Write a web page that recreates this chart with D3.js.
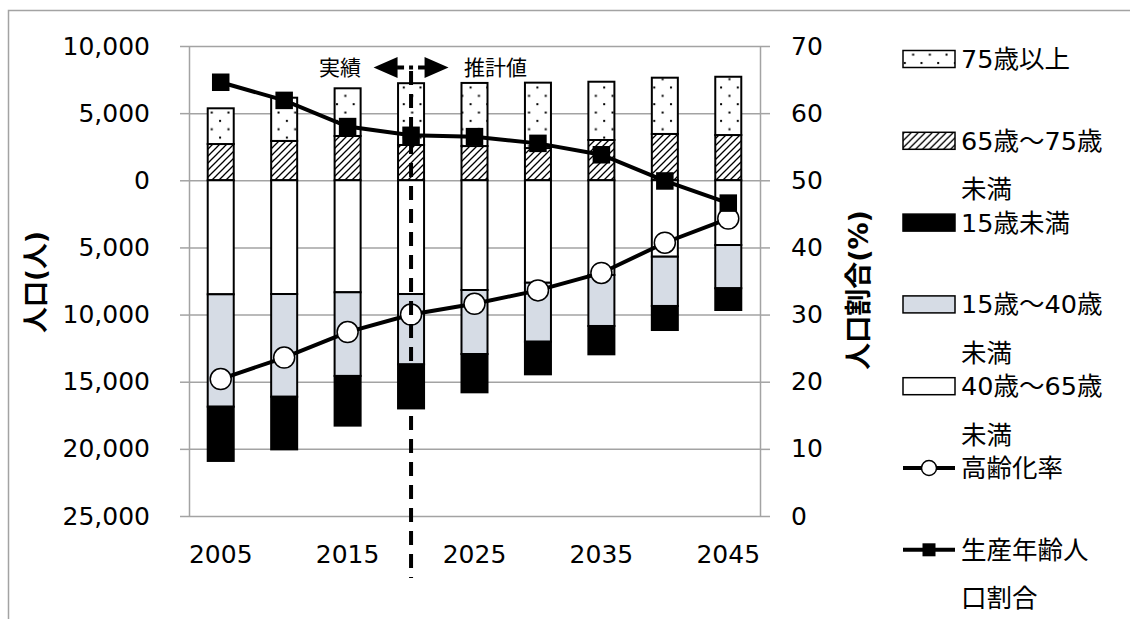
<!DOCTYPE html>
<html>
<head>
<meta charset="utf-8">
<script src="https://cdn.jsdelivr.net/npm/d3@7"></script>
<style>
  body { margin: 0; background: #fff; }
  svg { display: block; }
</style>
</head>
<body>
<svg id="chart" width="1130" height="619"></svg>
<script>
// ---- data ----
const years = [2005, 2010, 2015, 2020, 2025, 2030, 2035, 2040, 2045];
const yearTickLabels = [2005, 2015, 2025, 2035, 2045];

// population by age group (people); upper groups stack up, lower groups stack down
const age75plus = [2660, 3220, 3550, 4600, 4700, 4870, 4340, 4190, 4340];
const age65to75 = [2700, 2930, 3300, 2630, 2550, 2400, 3000, 3450, 3370];
const age40to65 = [8490, 8470, 8340, 8470, 8170, 7630, 7050, 5690, 4820];
const age15to40 = [8370, 7650, 6230, 5240, 4770, 4390, 3800, 3670, 3220];
const under15   = [4040, 3920, 3700, 3280, 2850, 2430, 2110, 1790, 1620];

// ratios (%)
const agingRate       = [20.4, 23.6, 27.4, 30.0, 31.6, 33.6, 36.2, 40.7, 44.3];
const workingAgeShare = [64.6, 61.9, 58.0, 56.7, 56.5, 55.5, 53.8, 49.9, 46.6];

const leftTicks  = [10000, 5000, 0, -5000, -10000, -15000, -20000, -25000];
const rightTicks = [0, 10, 20, 30, 40, 50, 60, 70];

const legendEntries = [
  { key: "age75plus", lines: ["75歳以上"], kind: "dots" },
  { key: "age65to75", lines: ["65歳～75歳", "未満"], kind: "hatch" },
  { key: "under15",   lines: ["15歳未満"], kind: "black" },
  { key: "age15to40", lines: ["15歳～40歳", "未満"], kind: "blue" },
  { key: "age40to65", lines: ["40歳～65歳", "未満"], kind: "white" },
  { key: "aging",     lines: ["高齢化率"], kind: "circle" },
  { key: "working",   lines: ["生産年齢人", "口割合"], kind: "square" }
];

// ---- layout ----
const plot = { left: 189, right: 760, top: 46, bottom: 516 };
const FONT = '"DejaVu Sans", "Noto Sans CJK JP", sans-serif';
const GRID = "#a3a3a3";
const BLUE = "#d6dce5";

const svg = d3.select("#chart");

// outer frame
svg.append("rect")
  .attr("x", 8.5).attr("y", 10.5).attr("width", 1300).attr("height", 800)
  .attr("fill", "none").attr("stroke", GRID).attr("stroke-width", 1.5);

// fill patterns
const defs = svg.append("defs");
const dots = defs.append("pattern").attr("id", "dots")
  .attr("patternUnits", "userSpaceOnUse").attr("width", 16.7).attr("height", 16.7);
dots.append("rect").attr("width", 16.7).attr("height", 16.7).attr("fill", "#fff");
dots.append("rect").attr("x", 2).attr("y", 3).attr("width", 2).attr("height", 2).attr("fill", "#000");
dots.append("rect").attr("x", 10.35).attr("y", 11.35).attr("width", 2).attr("height", 2).attr("fill", "#000");

const hatch = defs.append("pattern").attr("id", "hatch")
  .attr("patternUnits", "userSpaceOnUse").attr("width", 7).attr("height", 7);
hatch.append("rect").attr("width", 7).attr("height", 7).attr("fill", "#fff");
hatch.append("path").attr("d", "M-1,8 L8,-1 M-2,2 L2,-2 M5,9 L9,5")
  .attr("stroke", "#000").attr("stroke-width", 1.3);

const fills = {
  age75plus: "url(#dots)",
  age65to75: "url(#hatch)",
  age40to65: "#fff",
  age15to40: BLUE,
  under15: "#000"
};

// scales
const x = d3.scaleBand().domain(years).range([plot.left, plot.right])
  .paddingInner(0.59).paddingOuter(0.295);
const yL = d3.scaleLinear().domain([-25000, 10000]).range([plot.bottom, plot.top]);
const yR = d3.scaleLinear().domain([0, 70]).range([plot.bottom, plot.top]);
const cx = d => x(d) + x.bandwidth() / 2;

// gridlines
svg.append("g")
  .attr("transform", `translate(${plot.left},0)`)
  .call(d3.axisLeft(yL).tickValues(leftTicks).tickSize(-(plot.right - plot.left)).tickFormat(""))
  .call(g => g.select(".domain").remove())
  .call(g => g.selectAll("line").attr("stroke", GRID).attr("stroke-width", 1.5));

// left axis (magnitudes shown without sign)
const fmtAbs = v => d3.format(",")(Math.abs(v));
svg.append("g")
  .attr("transform", `translate(${plot.left},0)`)
  .call(d3.axisLeft(yL).tickValues(leftTicks).tickSize(9).tickSizeOuter(0).tickPadding(30).tickFormat(fmtAbs))
  .call(g => g.select(".domain").attr("stroke", GRID).attr("stroke-width", 1.5))
  .call(g => g.selectAll("line").attr("stroke", GRID).attr("stroke-width", 1.5))
  .call(g => g.selectAll("text").attr("font-family", FONT).attr("font-size", 25).attr("fill", "#000"));

// right axis
svg.append("g")
  .attr("transform", `translate(${plot.right},0)`)
  .call(d3.axisRight(yR).tickValues(rightTicks).tickSize(10).tickSizeOuter(0).tickPadding(21))
  .call(g => g.select(".domain").attr("stroke", GRID).attr("stroke-width", 1.5))
  .call(g => g.selectAll("line").attr("stroke", GRID).attr("stroke-width", 1.5))
  .call(g => g.selectAll("text").attr("font-family", FONT).attr("font-size", 25).attr("fill", "#000"));

// category axis
svg.append("g")
  .attr("transform", `translate(0,${plot.bottom})`)
  .call(d3.axisBottom(x).tickValues(yearTickLabels).tickSize(0).tickPadding(29))
  .call(g => g.select(".domain").remove())
  .call(g => g.selectAll("text").attr("font-family", FONT).attr("font-size", 25).attr("fill", "#000"));

// axis titles
svg.append("text")
  .attr("transform", "translate(45,282) rotate(-90)")
  .attr("text-anchor", "middle")
  .attr("font-family", FONT).attr("font-size", 26).attr("font-weight", "bold")
  .text("人口(人)");
svg.append("text")
  .attr("transform", "translate(868,290) rotate(-90)")
  .attr("text-anchor", "middle")
  .attr("font-family", FONT).attr("font-size", 27).attr("font-weight", "bold")
  .text("人口割合(%)");

// stacked bars
const keys = ["age65to75", "age75plus", "age40to65", "age15to40", "under15"];
const table = years.map((yr, i) => ({
  year: yr,
  age65to75: age65to75[i],
  age75plus: age75plus[i],
  age40to65: -age40to65[i],
  age15to40: -age15to40[i],
  under15: -under15[i]
}));
const series = d3.stack().keys(keys).offset(d3.stackOffsetDiverging)(table);

svg.append("g").selectAll("g")
  .data(series)
  .join("g")
  .attr("fill", s => fills[s.key])
  .attr("stroke", "#000")
  .attr("stroke-width", 2)
  .selectAll("rect")
  .data(s => s)
  .join("rect")
  .attr("x", d => x(d.data.year))
  .attr("width", x.bandwidth())
  .attr("y", d => yL(Math.max(d[0], d[1])))
  .attr("height", d => Math.abs(yL(d[0]) - yL(d[1])));

// ratio lines
const line = d3.line().x((d, i) => cx(years[i])).y(d => yR(d));
svg.append("path").datum(agingRate)
  .attr("d", line).attr("fill", "none").attr("stroke", "#000").attr("stroke-width", 4);
svg.append("path").datum(workingAgeShare)
  .attr("d", line).attr("fill", "none").attr("stroke", "#000").attr("stroke-width", 4);

svg.append("g").selectAll("circle")
  .data(agingRate)
  .join("circle")
  .attr("cx", (d, i) => cx(years[i]))
  .attr("cy", d => yR(d))
  .attr("r", 10.5)
  .attr("fill", "#fff").attr("stroke", "#000").attr("stroke-width", 1.5);

const sq = 17.5;
svg.append("g").selectAll("rect")
  .data(workingAgeShare)
  .join("rect")
  .attr("x", (d, i) => cx(years[i]) - sq / 2)
  .attr("y", d => yR(d) - sq / 2)
  .attr("width", sq).attr("height", sq)
  .attr("fill", "#000");

// actual / projection divider
const divX = cx(2020);
const arrowY = 67.5;
svg.append("line")
  .attr("x1", divX).attr("x2", divX).attr("y1", 71).attr("y2", 578)
  .attr("stroke", "#000").attr("stroke-width", 4).attr("stroke-dasharray", "14,9");
svg.append("path")
  .attr("d", `M${divX - 37.5},${arrowY} L${divX - 13.5},${arrowY - 10.5} L${divX - 13.5},${arrowY + 10.5} Z
              M${divX + 37.5},${arrowY} L${divX + 13.5},${arrowY - 10.5} L${divX + 13.5},${arrowY + 10.5} Z`)
  .attr("fill", "#000");
svg.append("line")
  .attr("x1", divX - 14).attr("x2", divX + 14).attr("y1", arrowY).attr("y2", arrowY)
  .attr("stroke", "#000").attr("stroke-width", 4).attr("stroke-dasharray", "7,5,4,5,7");
svg.append("text")
  .attr("x", divX - 50).attr("y", arrowY).attr("dy", "0.35em")
  .attr("text-anchor", "end")
  .attr("font-family", FONT).attr("font-size", 21)
  .text("実績");
svg.append("text")
  .attr("x", divX + 53).attr("y", arrowY).attr("dy", "0.35em")
  .attr("text-anchor", "start")
  .attr("font-family", FONT).attr("font-size", 21)
  .text("推計値");

// legend
const lg = { x: 903, w: 52, h: 17, textX: 961, top: 59, step: 81.8, lineGap: 48.5 };
const rows = svg.append("g").selectAll("g")
  .data(legendEntries)
  .join("g")
  .attr("transform", (d, i) => `translate(0,${lg.top + i * lg.step})`);

rows.each(function (d) {
  const g = d3.select(this);
  if (d.kind === "circle" || d.kind === "square") {
    g.append("line").attr("x1", lg.x).attr("x2", lg.x + lg.w).attr("y1", 0).attr("y2", 0)
      .attr("stroke", "#000").attr("stroke-width", 4);
    if (d.kind === "circle") {
      g.append("circle").attr("cx", lg.x + lg.w / 2).attr("cy", 0).attr("r", 7.5)
        .attr("fill", "#fff").attr("stroke", "#000").attr("stroke-width", 1.5);
    } else {
      g.append("rect").attr("x", lg.x + lg.w / 2 - 6.5).attr("y", -6.5)
        .attr("width", 13).attr("height", 13).attr("fill", "#000");
    }
  } else {
    g.append("rect")
      .attr("x", lg.x).attr("y", -lg.h / 2).attr("width", lg.w).attr("height", lg.h)
      .attr("fill", fills[d.key]).attr("stroke", "#000").attr("stroke-width", 1.5);
  }
  g.selectAll("text")
    .data(d.lines)
    .join("text")
    .attr("x", lg.textX)
    .attr("y", (t, j) => j * lg.lineGap)
    .attr("dy", "0.35em")
    .attr("font-family", FONT).attr("font-size", 25.5)
    .text(t => t);
});
</script>
</body>
</html>
